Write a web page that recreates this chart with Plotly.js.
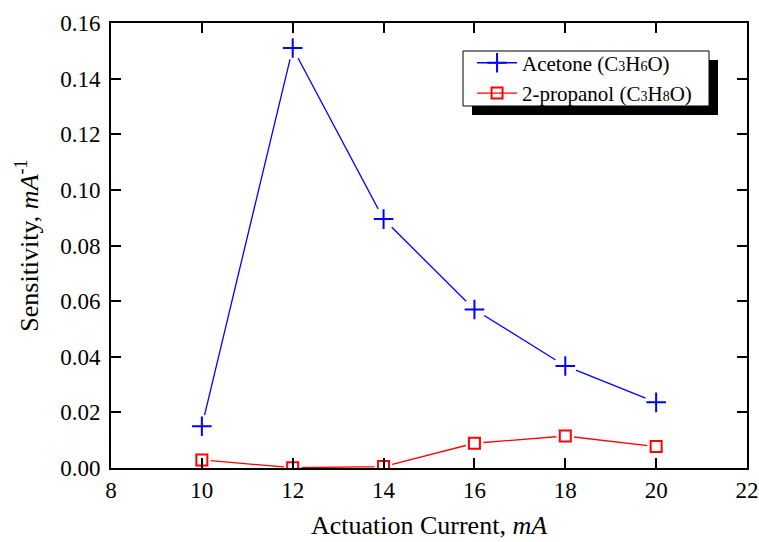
<!DOCTYPE html>
<html>
<head>
<meta charset="utf-8">
<script src="https://cdn.plot.ly/plotly-3.0.1.min.js"></script>
<style>html,body{margin:0;padding:0;background:#fff}#chart{width:759px;height:542px}</style>
</head>
<body>
<div id="chart"></div>
<script>
const current = [10, 12, 14, 16, 18, 20];
const acetone = [0.015, 0.151, 0.0895, 0.057, 0.0367, 0.0236];
const propanol = [0.0029, 0.0001, 0.0005, 0.0089, 0.0115, 0.0077];
const xTicks = [8, 10, 12, 14, 16, 18, 20, 22];
const yTicks = [0, 0.02, 0.04, 0.06, 0.08, 0.10, 0.12, 0.14, 0.16];
const yTickText = yTicks.map(v => v.toFixed(2));
const sub = d => '<span style="font-size:14px">' + d + '</span>';
const seriesNames = ['Acetone (C' + sub(3) + 'H' + sub(6) + 'O)', '2-propanol (C' + sub(3) + 'H' + sub(8) + 'O)'];

const blue = '#0000ff', red = '#ff0000';
const crossMarker = () => ({symbol: 'cross-thin', size: 14, line: {color: blue, width: 2}});
const squareMarker = () => ({symbol: 'square-open', size: 11, color: red, line: {color: red, width: 2}});
const gapMarker = s => ({symbol: 'circle', size: s, color: '#ffffff', line: {width: 0}});

const traces = [
  {x: current, y: acetone, name: seriesNames[0], mode: 'lines+markers',
   line: {color: blue, width: 1.3}, marker: crossMarker()},
  {x: current, y: propanol, name: seriesNames[1], mode: 'lines+markers',
   line: {color: red, width: 1.3}, marker: squareMarker()},
  {x: current, y: acetone, mode: 'markers', marker: gapMarker(23), showlegend: false, hoverinfo: 'skip'},
  {x: current, y: propanol, mode: 'markers', marker: gapMarker(18), showlegend: false, hoverinfo: 'skip'},
  {x: current, y: acetone, mode: 'markers', marker: crossMarker(), showlegend: false},
  {x: current, y: propanol, mode: 'markers', marker: squareMarker(), showlegend: false}
];

const axisCommon = {
  showgrid: false, zeroline: false, showline: true, linecolor: '#000', linewidth: 2,
  mirror: 'ticks', ticks: 'inside', ticklen: 10, tickwidth: 2, tickcolor: '#000',
  tickfont: {family: 'Liberation Serif', size: 23, color: '#000'}
};

const layout = {
  width: 759, height: 542,
  margin: {l: 111, r: 12, t: 23, b: 74},
  paper_bgcolor: '#fff', plot_bgcolor: '#fff',
  font: {family: 'Liberation Serif', color: '#000'},
  xaxis: Object.assign({}, axisCommon, {
    range: [8, 22], tickvals: xTicks, ticktext: xTicks.map(String),
    title: {text: 'Actuation Current, <i>mA</i>', font: {family: 'Liberation Serif', size: 26}, standoff: 14}
  }),
  yaxis: Object.assign({}, axisCommon, {
    range: [0, 0.16], tickvals: yTicks, ticktext: yTickText, ticklabelstandoff: 4,
    title: {text: 'Sensitivity, <i>mA</i><sup>-1</sup>', font: {family: 'Liberation Serif', size: 26}, standoff: 14}
  }),
  showlegend: true,
  legend: {
    x: 0.5677, y: 0.956, xanchor: 'left', yanchor: 'top',
    bgcolor: 'rgba(0,0,0,0)', borderwidth: 0,
    font: {family: 'Liberation Serif', size: 21, color: '#000'},
    itemwidth: 40, tracegroupgap: 0
  },
  shapes: [
    {type: 'rect', xref: 'paper', yref: 'paper', layer: 'above',
     x0: 0.5676, x1: 0.9544, y0: 0.7933, y1: 0.9169,
     fillcolor: '#000', line: {width: 0}},
    {type: 'rect', xref: 'paper', yref: 'paper', layer: 'above',
     x0: 0.5535, x1: 0.9403, y0: 0.8135, y1: 0.9371,
     fillcolor: '#fff', line: {color: '#000', width: 1}}
  ]
};

Plotly.newPlot('chart', traces, layout, {displayModeBar: false, staticPlot: true});
</script>
</body>
</html>
